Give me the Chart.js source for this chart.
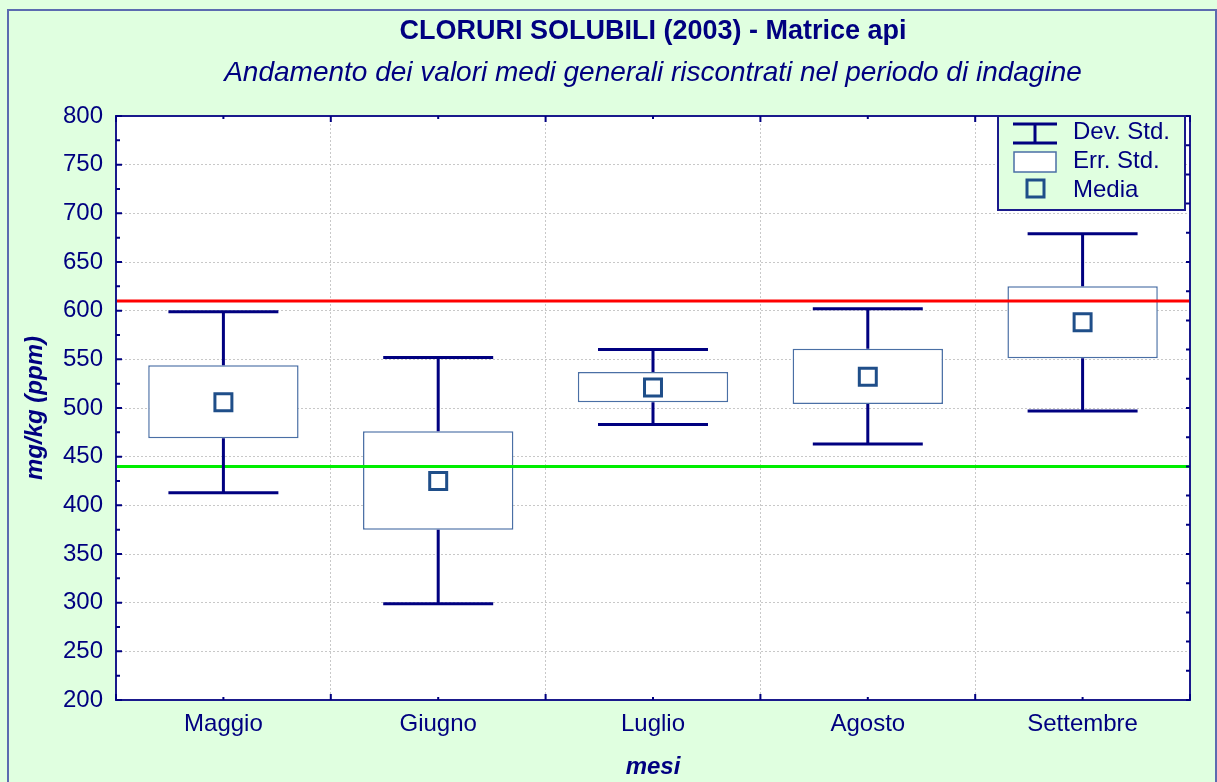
<!DOCTYPE html>
<html>
<head>
  <title>Cloruri solubili 2003</title>
  <script src="https://cdn.jsdelivr.net/npm/chart.js"></script>
  <style>
    body { margin: 0; background: #e0ffe0; }
  </style>
</head>
<body>
  <canvas id="chlorideChart" width="1217" height="782"></canvas>

  <script>
    // values
    const months = ['Maggio', 'Giugno', 'Luglio', 'Agosto', 'Settembre'];
    const meanValues = [506, 425, 521, 532, 588];
    const errStdLow = [469, 375, 506, 504, 551];
    const errStdHigh = [544, 476, 537, 561, 625];
    const devStdLow = [413, 299, 483, 463, 497];
    const devStdHigh = [599, 552, 560, 602, 679];
    const upperLimit = 610;
    const lowerLimit = 440;
    const yMin = 200, yMax = 800, yStep = 50;

    const navy = '#000080';
    const boxBorder = '#4a6fa5';
    const meanBorder = '#1f4e89';
    const fontFamily = "'Liberation Sans', Arial, sans-serif";

    const backgroundPlugin = {
      id: 'background',
      beforeDraw(chart) {
        const ctx = chart.ctx;
        const area = chart.chartArea;
        ctx.save();
        ctx.fillStyle = '#e0ffe0';
        ctx.fillRect(0, 0, chart.width, chart.height);
        ctx.fillStyle = '#ffffff';
        ctx.fillRect(area.left, area.top, area.right - area.left, area.bottom - area.top);
        ctx.strokeStyle = '#5c6bb0';
        ctx.lineWidth = 2;
        ctx.beginPath();
        ctx.moveTo(8, chart.height);
        ctx.lineTo(8, 10);
        ctx.lineTo(chart.width - 1, 10);
        ctx.lineTo(chart.width - 1, chart.height);
        ctx.stroke();
        ctx.restore();
      }
    };

    // reference lines and error bars, drawn right after the boxes
    const whiskerPlugin = {
      id: 'whiskers',
      afterDatasetDraw(chart, args) {
        if (args.meta.type !== 'bar') return;
        const ctx = chart.ctx;
        const xs = chart.scales.x, ys = chart.scales.y;
        const area = chart.chartArea;
        ctx.save();
        ctx.lineWidth = 3;
        [[upperLimit, '#ff0000'], [lowerLimit, '#00ee00']].forEach(([v, col]) => {
          const y = ys.getPixelForValue(v);
          ctx.strokeStyle = col;
          ctx.beginPath();
          ctx.moveTo(area.left, y);
          ctx.lineTo(area.right, y);
          ctx.stroke();
        });
        const capHalf = (area.right - area.left) / months.length * 0.256;
        ctx.strokeStyle = navy;
        ctx.lineWidth = 3;
        months.forEach((m, i) => {
          const x = xs.getPixelForValue(i);
          const yHi = ys.getPixelForValue(devStdHigh[i]);
          const yLo = ys.getPixelForValue(devStdLow[i]);
          const bHi = ys.getPixelForValue(errStdHigh[i]);
          const bLo = ys.getPixelForValue(errStdLow[i]);
          ctx.beginPath();
          ctx.moveTo(x, yHi); ctx.lineTo(x, bHi);
          ctx.moveTo(x, bLo); ctx.lineTo(x, yLo);
          ctx.moveTo(x - capHalf, yHi); ctx.lineTo(x + capHalf, yHi);
          ctx.moveTo(x - capHalf, yLo); ctx.lineTo(x + capHalf, yLo);
          ctx.stroke();
        });
        ctx.restore();
      }
    };

    const framePlugin = {
      id: 'plotFrame',
      afterDraw(chart) {
        const ctx = chart.ctx;
        const a = chart.chartArea;
        const xs = chart.scales.x, ys = chart.scales.y;
        ctx.save();
        ctx.strokeStyle = '#1a1a8c';
        ctx.lineWidth = 2;
        ctx.strokeRect(a.left, a.top, a.right - a.left, a.bottom - a.top);

        // inward tick marks
        ctx.lineWidth = 2;
        ctx.strokeStyle = navy;
        ctx.beginPath();
        for (let v = yMin; v <= yMax; v += yStep / 2) {
          const y = ys.getPixelForValue(v);
          const len = v % yStep === 0 ? 6 : 4;
          ctx.moveTo(a.left, y); ctx.lineTo(a.left + len, y);
        }
        for (let v = yMin; v <= yMax; v += 30) {
          const y = ys.getPixelForValue(v);
          ctx.moveTo(a.right, y); ctx.lineTo(a.right - 4, y);
        }
        const catW = (a.right - a.left) / months.length;
        for (let k = 0; k <= months.length * 2; k++) {
          const x = a.left + k * catW / 2;
          const len = k % 2 === 0 ? 6 : 3;
          ctx.moveTo(x, a.top); ctx.lineTo(x, a.top + len);
          ctx.moveTo(x, a.bottom); ctx.lineTo(x, a.bottom - len);
        }
        ctx.stroke();

        // legend box
        const lx = a.right - 192, ly = a.top, lw = 187, lh = 94;
        ctx.fillStyle = '#e0ffe0';
        ctx.fillRect(lx, ly, lw, lh);
        ctx.strokeStyle = '#1a1a8c';
        ctx.lineWidth = 2;
        ctx.strokeRect(lx, ly, lw, lh);

        ctx.strokeStyle = navy;
        ctx.lineWidth = 3;
        ctx.beginPath();
        ctx.moveTo(lx + 15, ly + 8); ctx.lineTo(lx + 59, ly + 8);
        ctx.moveTo(lx + 15, ly + 27); ctx.lineTo(lx + 59, ly + 27);
        ctx.moveTo(lx + 37, ly + 8); ctx.lineTo(lx + 37, ly + 27);
        ctx.stroke();

        ctx.fillStyle = '#ffffff';
        ctx.fillRect(lx + 16, ly + 36, 42, 20);
        ctx.strokeStyle = boxBorder;
        ctx.lineWidth = 1.5;
        ctx.strokeRect(lx + 16, ly + 36, 42, 20);

        ctx.strokeStyle = meanBorder;
        ctx.lineWidth = 3;
        ctx.strokeRect(lx + 29, ly + 64, 17, 17);

        ctx.fillStyle = navy;
        ctx.font = '24px ' + fontFamily;
        ctx.textBaseline = 'middle';
        ctx.textAlign = 'left';
        ctx.fillText('Dev. Std.', lx + 75, ly + 16);
        ctx.fillText('Err. Std.', lx + 75, ly + 45);
        ctx.fillText('Media', lx + 75, ly + 74);
        ctx.restore();
      }
    };

    const ctx = document.getElementById('chlorideChart').getContext('2d');
    const chart = new Chart(ctx, {
      type: 'bar',
      data: {
        labels: months,
        datasets: [{
          label: 'Err. Std.',
          data: months.map((m, i) => [errStdLow[i], errStdHigh[i]]),
          backgroundColor: '#ffffff',
          borderColor: boxBorder,
          borderWidth: 1.5,
          borderSkipped: false,
          barPercentage: 0.7,
          categoryPercentage: 1,
          order: 2
        }, {
          type: 'line',
          label: 'Media',
          data: meanValues,
          showLine: false,
          pointStyle: 'rect',
          pointRadius: 12,
          pointHoverRadius: 12,
          pointBorderWidth: 3,
          pointBorderColor: meanBorder,
          pointBackgroundColor: '#ffffff',
          order: 1
        }]
      },
      options: {
        responsive: false,
        animation: false,
        devicePixelRatio: 1,
        layout: { padding: { left: 10, right: 27, top: 0, bottom: 0 } },
        plugins: {
          legend: { display: false },
          tooltip: { enabled: false },
          title: {
            display: true,
            fullSize: false,
            text: 'CLORURI SOLUBILI (2003) - Matrice api',
            color: navy,
            font: { family: fontFamily, size: 27, weight: 'bold' },
            padding: { top: 15, bottom: 5 }
          },
          subtitle: {
            display: true,
            fullSize: false,
            text: 'Andamento dei valori medi generali riscontrati nel periodo di indagine',
            color: navy,
            font: { family: fontFamily, size: 28, style: 'italic' },
            padding: { top: 4, bottom: 26 }
          }
        },
        scales: {
          x: {
            afterFit: (scale) => { scale.height = 82; },
            grid: { color: '#c8c8c8', lineWidth: 1, drawTicks: false, offset: true },
            border: { display: true, color: navy, width: 2, dash: [2, 2] },
            ticks: { color: navy, padding: 10, font: { family: fontFamily, size: 24 } },
            title: {
              display: true,
              text: 'mesi',
              color: navy,
              font: { family: fontFamily, size: 24, weight: 'bold', style: 'italic' },
              padding: { top: 0, bottom: 0 }
            }
          },
          y: {
            min: yMin,
            max: yMax,
            afterFit: (scale) => { scale.width = 106; },
            grid: { color: '#c8c8c8', lineWidth: 1, drawTicks: false },
            border: { display: true, color: navy, width: 2, dash: [2, 2] },
            ticks: { stepSize: yStep, color: navy, padding: 13, font: { family: fontFamily, size: 24 } },
            title: {
              display: true,
              text: 'mg/kg (ppm)',
              color: navy,
              font: { family: fontFamily, size: 24, weight: 'bold', style: 'italic' },
              padding: { top: 11, bottom: 0 }
            }
          }
        }
      },
      plugins: [backgroundPlugin, whiskerPlugin, framePlugin]
    });
  </script>
</body>
</html>
